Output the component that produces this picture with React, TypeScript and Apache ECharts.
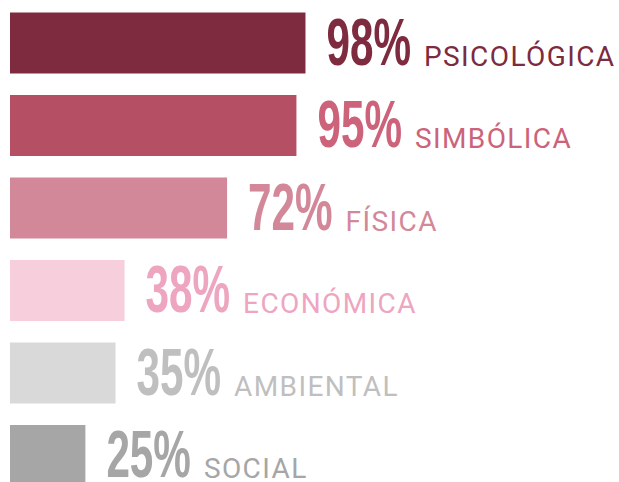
import React, { useEffect, useRef } from "react";
import * as echarts from "echarts";

const categories = ["PSICOLÓGICA", "SIMBÓLICA", "FÍSICA", "ECONÓMICA", "AMBIENTAL", "SOCIAL"];
const values = [98, 95, 72, 38, 35, 25];
const barColors = ["#7e2a3f", "#b44f64", "#d38899", "#f7cedc", "#d9d9d9", "#a6a6a6"];
const labelColors = ["#7e2a3f", "#cc637b", "#d38899", "#eea5bf", "#bfbfbf", "#a6a6a6"];

const PCT_FONT = "bold 66px 'Liberation Sans', Arial, sans-serif";
const PCT_SCALE = 0.64;
const NAME_FONT = "28px Roboto";
const BAR_GAP = 21;
const NAME_GAP = 13;

function measure(text: string, font: string): number {
  const c = document.createElement("canvas").getContext("2d");
  if (!c) return text.length * 30;
  c.font = font;
  return c.measureText(text).width;
}

export default function App() {
  const ref = useRef<HTMLDivElement>(null);
  useEffect(() => {
    if (!ref.current) return;
    const chart = echarts.init(ref.current, null, { renderer: "svg" });
    chart.setOption({
      animation: false,
      grid: { left: 10, top: 1.75, width: 301.5, height: 495, containLabel: false },
      xAxis: { type: "value", min: 0, max: 100, show: false },
      yAxis: { type: "category", inverse: true, show: false, data: categories },
      series: [
        {
          type: "bar",
          barWidth: 61,
          silent: true,
          data: values.map((v, i) => ({ value: v, itemStyle: { color: barColors[i] } })),
        },
        {
          type: "custom",
          silent: true,
          data: values.map((v, i) => [v, i]),
          encode: { x: 0, y: 1 },
          renderItem: (params: any, api: any) => {
            const i = params.dataIndex;
            const v = api.value(0);
            const pt = api.coord([v, i]);
            const x = pt[0] + BAR_GAP;
            const cy = pt[1];
            const pctText = `${v}%`;
            const w = measure(pctText, PCT_FONT) * PCT_SCALE;
            return {
              type: "group",
              children: [
                {
                  type: "text",
                  x,
                  y: cy - 1,
                  scaleX: PCT_SCALE,
                  style: {
                    text: pctText,
                    font: PCT_FONT,
                    fill: labelColors[i],
                    align: "left",
                    verticalAlign: "middle",
                  },
                },
                {
                  type: "text",
                  x: x + w + NAME_GAP,
                  y: cy + 13,
                  style: {
                    text: categories[i],
                    font: NAME_FONT,
                    fill: labelColors[i],
                    align: "left",
                    verticalAlign: "middle",
                  },
                },
              ],
            };
          },
        },
      ],
    });
    return () => chart.dispose();
  }, []);
  return (
    <>
      <style>{`text[style*="Roboto"]{letter-spacing:1.4px;}`}</style>
      <div
        style={{ position: "fixed", left: 0, top: 0, width: 619, height: 482, overflow: "hidden", background: "#fff" }}
      >
        <div ref={ref} style={{ width: 619, height: 520 }} />
      </div>
    </>
  );
}
